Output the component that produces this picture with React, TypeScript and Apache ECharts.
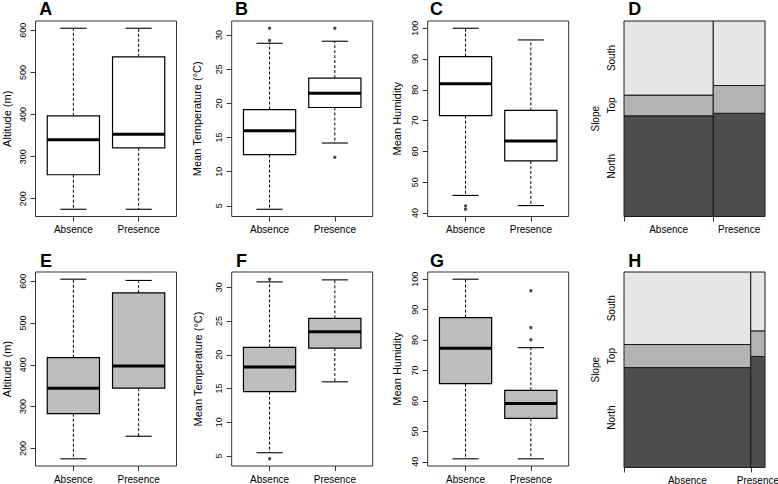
import React, { useEffect, useRef } from "react";
import * as echarts from "echarts";

// ---------- data ----------
const groups = ["Absence", "Presence"];

// boxplot stats per group: [lower whisker, Q1, median, Q3, upper whisker]
const altitudeTop = [
  [175, 257, 340, 397, 605],
  [175, 321, 353, 537, 605],
];
const altitudeTopOut: number[][] = [];
const tempTop = [
  [4.5, 12.5, 16.0, 19.1, 28.8],
  [14.2, 19.4, 21.5, 23.7, 29.1],
];
const tempTopOut = [
  [1, 31.0],
  [1, 29.2],
  [2, 31.0],
  [2, 12.1],
];
const humTop = [
  [45.7, 71.6, 82.0, 90.8, 100],
  [42.4, 56.9, 63.4, 73.3, 96.2],
];
const humTopOut = [
  [1, 42.3],
  [1, 41.2],
];
const altitudeBottom = [
  [175, 283, 344, 417, 605],
  [229, 344, 397, 572, 602],
];
const altitudeBottomOut: number[][] = [];
const tempBottom = [
  [5.5, 14.55, 18.2, 21.1, 30.8],
  [16.0, 21.0, 23.4, 25.4, 31.1],
];
const tempBottomOut = [
  [1, 31.2],
  [1, 4.6],
];
const humBottom = [
  [41.0, 65.7, 77.3, 87.4, 100],
  [41.0, 54.3, 59.2, 63.5, 77.5],
];
const humBottomOut = [
  [2, 96.2],
  [2, 84.1],
  [2, 80.1],
];

const altTicks = [200, 300, 400, 500, 600];
const tempTicks = [5, 10, 15, 20, 25, 30];
const humTicks = [40, 50, 60, 70, 80, 90, 100];

// spine plots (Slope by Absence/Presence)
const slopeLevels = ["North", "Top", "South"];
const slopeColShareTop = [0.633, 0.367];
const slopeTopAbsence = [0.515, 0.106, 0.379];
const slopeTopPresence = [0.528, 0.142, 0.33];
const slopeColShareBottom = [0.899, 0.101];
const slopeBottomAbsence = [0.511, 0.118, 0.371];
const slopeBottomPresence = [0.568, 0.131, 0.301];

// ---------- layout / style ----------
const FONT = "'Liberation Sans', Arial, Helvetica, sans-serif";
const PW = 141;
const PH = 195.5;
const ROW_TOP = [21, 272];
const COL_LEFT = [35.5, 231.7, 427.7, 624];
const slopeColors = ["#4d4d4d", "#b3b3b3", "#e6e6e6"];

function padExtent(stats: number[][], out: number[][]) {
  const vals: number[] = [];
  stats.forEach((s) => vals.push(...s));
  out.forEach((o) => vals.push(o[1]));
  const lo = Math.min(...vals);
  const hi = Math.max(...vals);
  const r = hi - lo;
  return [lo - 0.04 * r, hi + 0.04 * r];
}

function boxRender(fill: string) {
  return (_params: any, api: any) => {
    const x = api.value(0);
    const lo = api.coord([x, api.value(1)]);
    const q1 = api.coord([x, api.value(2)]);
    const med = api.coord([x, api.value(3)]);
    const q3 = api.coord([x, api.value(4)]);
    const hi = api.coord([x, api.value(5)]);
    const half = api.coord([x + 0.4, api.value(3)])[0] - med[0];
    const cap = half / 2;
    const cx = med[0];
    const dash = { stroke: "#000", lineWidth: 1, lineDash: [3, 2] };
    const solid = { stroke: "#000", lineWidth: 1.1 };
    return {
      type: "group",
      children: [
        { type: "line", shape: { x1: cx, y1: q3[1], x2: cx, y2: hi[1] }, style: dash },
        { type: "line", shape: { x1: cx, y1: q1[1], x2: cx, y2: lo[1] }, style: dash },
        { type: "line", shape: { x1: cx - cap, y1: hi[1], x2: cx + cap, y2: hi[1] }, style: solid },
        { type: "line", shape: { x1: cx - cap, y1: lo[1], x2: cx + cap, y2: lo[1] }, style: solid },
        {
          type: "rect",
          shape: { x: cx - half, y: q3[1], width: 2 * half, height: q1[1] - q3[1] },
          style: { fill, stroke: "#000", lineWidth: 1.2 },
        },
        {
          type: "line",
          shape: { x1: cx - half, y1: med[1], x2: cx + half, y2: med[1] },
          style: { stroke: "#000", lineWidth: 3 },
        },
      ],
    };
  };
}

function spineRender(_params: any, api: any) {
  const x0 = api.value(0);
  const x1 = api.value(1);
  const y0 = api.value(2);
  const y1 = api.value(3);
  const cat = api.value(4);
  const col = api.value(5);
  const a = api.coord([x0, y1]);
  const b = api.coord([x1, y0]);
  const children: any[] = [
    {
      type: "rect",
      shape: { x: a[0], y: a[1], width: b[0] - a[0], height: b[1] - a[1] },
      style: { fill: slopeColors[cat], stroke: "#1a1a1a", lineWidth: 1 },
    },
  ];
  if (cat === 0) {
    // column (group) label under the bottom tile
    children.push({
      type: "text",
      x: (a[0] + b[0]) / 2,
      y: b[1] + 8,
      style: {
        text: groups[col],
        fill: "#000",
        fontSize: 10,
        fontFamily: FONT,
        align: "center",
        verticalAlign: "top",
      },
    });
  }
  return { type: "group", children };
}

export default function App() {
  const ref = useRef<HTMLDivElement>(null);

  useEffect(() => {
    document.body.style.margin = "0";
    if (!ref.current) return;
    const chart = echarts.init(ref.current, undefined, { renderer: "svg" });

    const grids: any[] = [];
    const xAxes: any[] = [];
    const yAxes: any[] = [];
    const series: any[] = [];

    const boxPanel = (
      row: number,
      col: number,
      stats: number[][],
      out: number[][],
      ticks: number[],
      title: string,
      nameGap: number,
      fill: string
    ) => {
      const gi = grids.length;
      grids.push({
        left: COL_LEFT[col],
        top: ROW_TOP[row],
        width: PW,
        height: PH,
        show: true,
        borderColor: "#333",
        borderWidth: 1,
        backgroundColor: "transparent",
      });
      xAxes.push({
        gridIndex: gi,
        type: "value",
        min: 0.42,
        max: 2.58,
        axisLine: { show: false },
        splitLine: { show: false },
        axisTick: { show: true, customValues: [1, 2], length: 5, lineStyle: { color: "#333" } },
        axisLabel: {
          customValues: [1, 2],
          formatter: (v: number) => groups[Math.round(v) - 1],
          fontSize: 10,
          color: "#000",
          fontFamily: FONT,
          margin: 8,
        },
      });
      const [mn, mx] = padExtent(stats, out);
      yAxes.push({
        gridIndex: gi,
        type: "value",
        min: mn,
        max: mx,
        axisLine: { show: false },
        splitLine: { show: false },
        axisTick: { show: true, customValues: ticks, length: 5, lineStyle: { color: "#333" } },
        axisLabel: {
          customValues: ticks,
          rotate: 90,
          fontSize: 9,
          color: "#000",
          fontFamily: FONT,
          margin: 8,
        },
        name: title,
        nameLocation: "middle",
        nameRotate: 90,
        nameGap,
        nameTextStyle: { fontSize: 11, color: "#000", fontFamily: FONT },
      });
      series.push({
        type: "custom",
        xAxisIndex: gi,
        yAxisIndex: gi,
        renderItem: boxRender(fill),
        encode: { x: 0, y: [1, 2, 3, 4, 5] },
        data: stats.map((s, i) => [i + 1, ...s]),
        silent: true,
      });
      if (out.length) {
        series.push({
          type: "scatter",
          xAxisIndex: gi,
          yAxisIndex: gi,
          data: out,
          symbol: "circle",
          symbolSize: 3.4,
          itemStyle: { color: "#222" },
          silent: true,
        });
      }
    };

    const spinePanel = (row: number, share: number[], absence: number[], presence: number[]) => {
      const gi = grids.length;
      grids.push({ left: COL_LEFT[3], top: ROW_TOP[row], width: PW, height: PH, show: false });
      const tiles: number[][] = [];
      let xs = 0;
      [absence, presence].forEach((props, c) => {
        let ys = 0;
        props.forEach((p, k) => {
          tiles.push([xs, xs + share[c], ys, ys + p, k, c]);
          ys += p;
        });
        xs += share[c];
      });
      const labelYs: number[] = [];
      let acc = 0;
      absence.forEach((p) => {
        labelYs.push(acc + p / 2);
        acc += p;
      });
      xAxes.push({
        gridIndex: gi,
        type: "value",
        min: 0,
        max: 1,
        axisLine: { show: false },
        splitLine: { show: false },
        axisTick: { show: true, customValues: [0, share[0]], length: 5, lineStyle: { color: "#333" } },
        axisLabel: { show: false },
      });
      yAxes.push({
        gridIndex: gi,
        type: "value",
        min: 0,
        max: 1,
        axisLine: { show: false },
        splitLine: { show: false },
        axisTick: { show: false },
        axisLabel: {
          customValues: labelYs,
          formatter: (v: number) => {
            let best = 0;
            labelYs.forEach((l, i) => {
              if (Math.abs(l - v) < Math.abs(labelYs[best] - v)) best = i;
            });
            return slopeLevels[best];
          },
          rotate: 90,
          fontSize: 10,
          color: "#000",
          fontFamily: FONT,
          margin: 8,
        },
        name: "Slope",
        nameLocation: "middle",
        nameRotate: 90,
        nameGap: 24,
        nameTextStyle: { fontSize: 10, color: "#000", fontFamily: FONT },
      });
      series.push({
        type: "custom",
        xAxisIndex: gi,
        yAxisIndex: gi,
        renderItem: spineRender,
        encode: { x: [0, 1], y: [2, 3] },
        data: tiles,
        clip: false,
        silent: true,
      });
    };

    boxPanel(0, 0, altitudeTop, altitudeTopOut, altTicks, "Altitude (m)", 23.5, "#ffffff");
    boxPanel(0, 1, tempTop, tempTopOut, tempTicks, "Mean Temperature (°C)", 29, "#ffffff");
    boxPanel(0, 2, humTop, humTopOut, humTicks, "Mean Humidity", 25, "#ffffff");
    spinePanel(0, slopeColShareTop, slopeTopAbsence, slopeTopPresence);
    boxPanel(1, 0, altitudeBottom, altitudeBottomOut, altTicks, "Altitude (m)", 23.5, "#bebebe");
    boxPanel(1, 1, tempBottom, tempBottomOut, tempTicks, "Mean Temperature (°C)", 28.5, "#bebebe");
    boxPanel(1, 2, humBottom, humBottomOut, humTicks, "Mean Humidity", 25, "#bebebe");
    spinePanel(1, slopeColShareBottom, slopeBottomAbsence, slopeBottomPresence);

    const letters = [
      ["A", 39.3, 8.5],
      ["B", 235, 8.5],
      ["C", 430, 9],
      ["D", 628.3, 9.2],
      ["E", 40, 261],
      ["F", 236, 261],
      ["G", 430, 261],
      ["H", 628.3, 261],
    ];

    chart.setOption({
      animation: false,
      backgroundColor: "#ffffff",
      textStyle: { fontFamily: FONT },
      grid: grids,
      xAxis: xAxes,
      yAxis: yAxes,
      series,
      graphic: letters.map(([t, x, y]) => ({
        type: "text",
        x: x as number,
        y: y as number,
        style: {
          text: t as string,
          fill: "#000",
          fontSize: 18,
          fontWeight: "bold",
          fontFamily: FONT,
          align: "left",
          verticalAlign: "middle",
        },
      })),
    });

    return () => chart.dispose();
  }, []);

  return <div ref={ref} style={{ width: 778, height: 484 }} />;
}
